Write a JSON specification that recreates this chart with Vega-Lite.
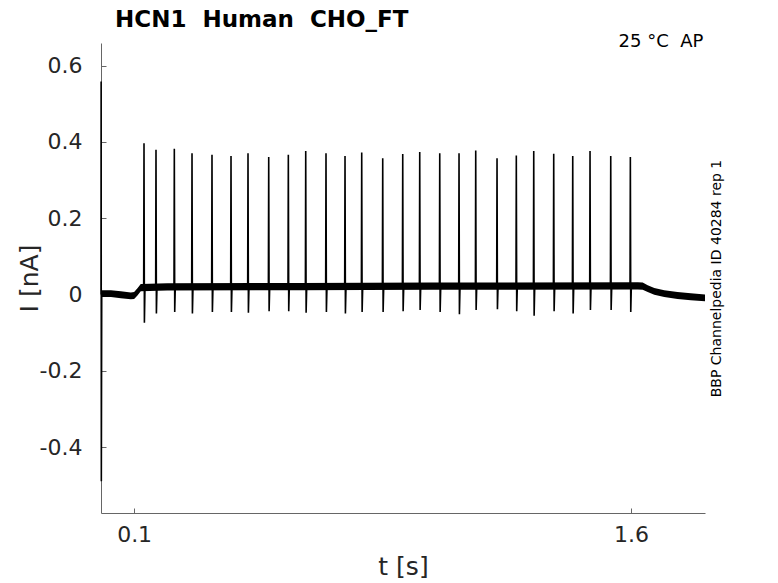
{
  "$schema": "https://vega.github.io/schema/vega-lite/v6.json",
  "width": 604,
  "height": 470,
  "autosize": {"type": "none"},
  "padding": {"left": 101, "top": 43, "right": 73, "bottom": 70},
  "background": "white",
  "config": {"font": "DejaVu Sans", "view": {"stroke": null}},
  "title": {
    "text": "HCN1\u00a0 Human\u00a0 CHO_FT",
    "anchor": "start",
    "frame": "group",
    "fontSize": 23,
    "fontWeight": "bold",
    "color": "black",
    "offset": 1,
    "dx": 14
  },
  "datasets": {
    "band": [
      {"t": 0.002, "lo": -0.007, "hi": 0.011},
      {"t": 0.03, "lo": -0.007, "hi": 0.011},
      {"t": 0.06, "lo": -0.01, "hi": 0.008},
      {"t": 0.09, "lo": -0.013, "hi": 0.005},
      {"t": 0.1, "lo": -0.012, "hi": 0.006},
      {"t": 0.11, "lo": -0.003, "hi": 0.016},
      {"t": 0.12, "lo": 0.008, "hi": 0.027},
      {"t": 0.2, "lo": 0.01, "hi": 0.029},
      {"t": 0.6, "lo": 0.011, "hi": 0.03},
      {"t": 1.0, "lo": 0.012, "hi": 0.031},
      {"t": 1.62, "lo": 0.013, "hi": 0.032},
      {"t": 1.635, "lo": 0.012, "hi": 0.031},
      {"t": 1.65, "lo": 0.006, "hi": 0.024},
      {"t": 1.67, "lo": -0.001, "hi": 0.017},
      {"t": 1.7, "lo": -0.007, "hi": 0.011},
      {"t": 1.74, "lo": -0.012, "hi": 0.006},
      {"t": 1.78, "lo": -0.015, "hi": 0.003},
      {"t": 1.823, "lo": -0.018, "hi": 0.0}
    ],
    "trace": [
      {"t": 0, "i": 0.0},
      {"t": 0.0004, "i": 0.558},
      {"t": 0.001, "i": -0.49},
      {"t": 0.0022, "i": 0.004},
      {"t": 0.02, "i": 0.002},
      {"t": 0.045, "i": 0.0},
      {"t": 0.07, "i": -0.002},
      {"t": 0.09, "i": -0.004},
      {"t": 0.1, "i": -0.003},
      {"t": 0.11, "i": 0.008},
      {"t": 0.12, "i": 0.017},
      {"t": 0.126, "i": 0.02},
      {"t": 0.1288, "i": 0.02}, {"t": 0.1298, "i": 0.396}, {"t": 0.131, "i": -0.0745}, {"t": 0.1328, "i": 0.021},
      {"t": 0.165, "i": 0.021}, {"t": 0.166, "i": 0.379}, {"t": 0.1672, "i": -0.05}, {"t": 0.169, "i": 0.021},
      {"t": 0.2203, "i": 0.021}, {"t": 0.2213, "i": 0.382}, {"t": 0.2225, "i": -0.046}, {"t": 0.2243, "i": 0.021},
      {"t": 0.2737, "i": 0.021}, {"t": 0.2747, "i": 0.37}, {"t": 0.2759, "i": -0.05}, {"t": 0.2777, "i": 0.021},
      {"t": 0.334, "i": 0.021}, {"t": 0.335, "i": 0.366}, {"t": 0.3362, "i": -0.046}, {"t": 0.338, "i": 0.021},
      {"t": 0.3914, "i": 0.021}, {"t": 0.3924, "i": 0.363}, {"t": 0.3936, "i": -0.046}, {"t": 0.3954, "i": 0.021},
      {"t": 0.4427, "i": 0.021}, {"t": 0.4437, "i": 0.37}, {"t": 0.4449, "i": -0.048}, {"t": 0.4467, "i": 0.021},
      {"t": 0.5052, "i": 0.021}, {"t": 0.5062, "i": 0.36}, {"t": 0.5074, "i": -0.044}, {"t": 0.5092, "i": 0.021},
      {"t": 0.5644, "i": 0.021}, {"t": 0.5654, "i": 0.366}, {"t": 0.5666, "i": -0.044}, {"t": 0.5684, "i": 0.021},
      {"t": 0.6169, "i": 0.021}, {"t": 0.6179, "i": 0.376}, {"t": 0.6191, "i": -0.048}, {"t": 0.6209, "i": 0.021},
      {"t": 0.6781, "i": 0.021}, {"t": 0.6791, "i": 0.37}, {"t": 0.6803, "i": -0.046}, {"t": 0.6821, "i": 0.021},
      {"t": 0.7355, "i": 0.021}, {"t": 0.7365, "i": 0.363}, {"t": 0.7377, "i": -0.05}, {"t": 0.7395, "i": 0.021},
      {"t": 0.7859, "i": 0.021}, {"t": 0.7869, "i": 0.372}, {"t": 0.7881, "i": -0.046}, {"t": 0.7899, "i": 0.021},
      {"t": 0.8493, "i": 0.021}, {"t": 0.8503, "i": 0.357}, {"t": 0.8515, "i": -0.046}, {"t": 0.8533, "i": 0.021},
      {"t": 0.9097, "i": 0.021}, {"t": 0.9107, "i": 0.368}, {"t": 0.9119, "i": -0.044}, {"t": 0.9137, "i": 0.021},
      {"t": 0.961, "i": 0.021}, {"t": 0.962, "i": 0.373}, {"t": 0.9632, "i": -0.041}, {"t": 0.965, "i": 0.021},
      {"t": 1.0214, "i": 0.021}, {"t": 1.0224, "i": 0.37}, {"t": 1.0236, "i": -0.046}, {"t": 1.0254, "i": 0.021},
      {"t": 1.0796, "i": 0.021}, {"t": 1.0806, "i": 0.37}, {"t": 1.0818, "i": -0.052}, {"t": 1.0836, "i": 0.021},
      {"t": 1.13, "i": 0.021}, {"t": 1.131, "i": 0.377}, {"t": 1.1322, "i": -0.041}, {"t": 1.134, "i": 0.021},
      {"t": 1.1943, "i": 0.021}, {"t": 1.1953, "i": 0.357}, {"t": 1.1965, "i": -0.039}, {"t": 1.1983, "i": 0.021},
      {"t": 1.2525, "i": 0.021}, {"t": 1.2535, "i": 0.364}, {"t": 1.2547, "i": -0.044}, {"t": 1.2565, "i": 0.021},
      {"t": 1.3051, "i": 0.021}, {"t": 1.3061, "i": 0.376}, {"t": 1.3073, "i": -0.056}, {"t": 1.3091, "i": 0.021},
      {"t": 1.3654, "i": 0.021}, {"t": 1.3664, "i": 0.369}, {"t": 1.3676, "i": -0.044}, {"t": 1.3694, "i": 0.021},
      {"t": 1.4228, "i": 0.021}, {"t": 1.4238, "i": 0.363}, {"t": 1.425, "i": -0.05}, {"t": 1.4268, "i": 0.021},
      {"t": 1.475, "i": 0.021}, {"t": 1.476, "i": 0.376}, {"t": 1.4772, "i": -0.041}, {"t": 1.479, "i": 0.021},
      {"t": 1.5375, "i": 0.021}, {"t": 1.5385, "i": 0.363}, {"t": 1.5397, "i": -0.041}, {"t": 1.5415, "i": 0.021},
      {"t": 1.5967, "i": 0.021}, {"t": 1.5977, "i": 0.36}, {"t": 1.5989, "i": -0.046}, {"t": 1.6007, "i": 0.022},
      {"t": 1.62, "i": 0.023},
      {"t": 1.635, "i": 0.022},
      {"t": 1.65, "i": 0.015},
      {"t": 1.67, "i": 0.008},
      {"t": 1.7, "i": 0.002},
      {"t": 1.74, "i": -0.003},
      {"t": 1.78, "i": -0.006},
      {"t": 1.823, "i": -0.009}
    ],
    "note": [
      {"t": 1.818, "i": 0.649, "label": "25 °C\u00a0 AP"}
    ]
  },
  "layer": [
    {
      "data": {"name": "band"},
      "mark": {"type": "area", "color": "black", "opacity": 1},
      "encoding": {
        "x": {"field": "t", "type": "quantitative", "scale": {"domain": [0, 1.823], "nice": false, "zero": false}, "axis": null},
        "y": {"field": "lo", "type": "quantitative", "scale": {"domain": [-0.573, 0.659], "nice": false, "zero": false}, "axis": null},
        "y2": {"field": "hi"}
      }
    },
    {
      "data": {"name": "trace"},
      "mark": {"type": "line", "color": "black", "strokeWidth": 1.6},
      "encoding": {
        "x": {
          "field": "t",
          "type": "quantitative",
          "scale": {"domain": [0, 1.823], "nice": false, "zero": false},
          "axis": {
            "values": [0.1, 1.6],
            "format": ".1f",
            "title": "t [s]",
            "titleFontSize": 25,
            "titleFontWeight": "normal",
            "titleColor": "#262626",
            "titlePadding": 9,
            "labelFontSize": 22,
            "labelColor": "#262626",
            "labelPadding": 16,
            "domainColor": "#666666",
            "tickColor": "#666666",
            "tickSize": -5,
            "grid": false
          }
        },
        "y": {
          "field": "i",
          "type": "quantitative",
          "scale": {"domain": [-0.573, 0.659], "nice": false, "zero": false},
          "axis": {
            "values": [-0.4, -0.2, 0, 0.2, 0.4, 0.6],
            "title": "I [nA]",
            "titleFontSize": 25,
            "titleFontWeight": "normal",
            "titleColor": "#262626",
            "titlePadding": -3,
            "labelFontSize": 22,
            "labelColor": "#262626",
            "labelPadding": 24,
            "labelExpr": "datum.value == 0 ? '0' : replace(format(datum.value, '.1f'), '\u2212', '-')",
            "domainColor": "#666666",
            "tickColor": "#666666",
            "tickSize": -5,
            "grid": false
          }
        }
      }
    },
    {
      "data": {"name": "note"},
      "mark": {"type": "text", "align": "right", "baseline": "alphabetic", "fontSize": 18, "color": "black"},
      "encoding": {
        "x": {"field": "t", "type": "quantitative", "scale": {"domain": [0, 1.823], "nice": false, "zero": false}, "axis": null},
        "y": {
          "field": "i",
          "type": "quantitative",
          "scale": {"domain": [-0.573, 0.659], "nice": false, "zero": false},
          "axis": {
            "orient": "right",
            "title": "BBP Channelpedia ID 40284 rep 1",
            "titleFontSize": 14,
            "titleFontWeight": "normal",
            "titleColor": "black",
            "titleAngle": 270,
            "titlePadding": 18,
            "labels": false,
            "ticks": false,
            "domain": false,
            "grid": false
          }
        },
        "text": {"field": "label"}
      }
    }
  ],
  "resolve": {"axis": {"x": "independent", "y": "independent"}}
}
